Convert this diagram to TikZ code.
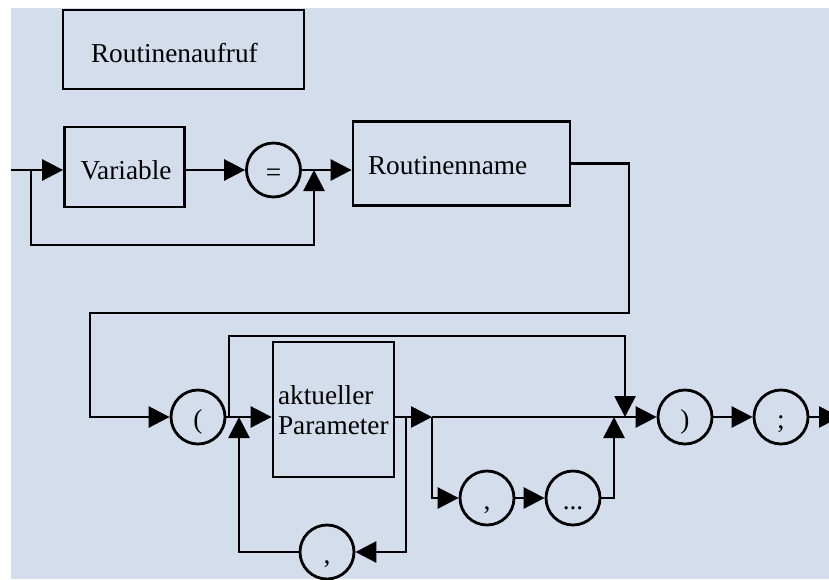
\documentclass[tikz,border=0pt]{standalone}
\usepackage{fontspec}
\setmainfont{Liberation Serif}
\usetikzlibrary{arrows.meta}
\definecolor{syntaxbg}{RGB}{211,221,235}

\def\syntaxfont{\fontsize{27.3}{30}\selectfont}

\begin{document}
\begin{tikzpicture}[x=1pt,y=-1pt,line width=2.8pt,
        syn/.style={-{Triangle[length=21pt,width=21pt]}},
        kasten/.style={draw,rectangle,inner ysep=0pt,align=left,font=\syntaxfont},
        kreis/.style={draw,circle,minimum size=54pt,inner sep=0pt,text height=24pt,text depth=2pt,font=\syntaxfont}]
        \useasboundingbox (0,0) rectangle (829,579);
        \fill[syntaxbg] (11,8) rectangle (829,579);

        \node[kasten,minimum width=241pt,minimum height=79pt,inner xsep=28pt,text width=185pt,text height=25.6pt,text depth=0pt] (aufruf) at (183.5,49.5) {Routinenaufruf};
        \node[kasten,minimum width=120pt,minimum height=80pt,inner xsep=16pt,text width=88pt,text height=24.6pt,text depth=0pt] (var) at (124.5,167) {Variable};
        \node[kasten,minimum width=217pt,minimum height=84pt,inner xsep=15pt,text width=187pt,text height=21.2pt,text depth=0pt] (rname) at (461.5,163.7) {Routinenname};
        \node[kasten,minimum width=121pt,minimum height=135pt,inner xsep=5pt,text width=111pt,text height=19.6pt,text depth=30pt] (param) at (333.5,409.5) {aktueller\\Parameter};

        \node[kreis] (gleich) at (273.5,170) {=};
        \node[kreis] (auf) at (198,417) {(};
        \node[kreis] (komma) at (327,552) {,};
        \node[kreis] (komma2) at (487,498) {,};
        \node[kreis] (punkte) at (573,498) {...};
        \node[kreis] (zu) at (685,417) {)};
        \node[kreis] (semi) at (781,417) {;};

        \coordinate (start) at (11,170);
        \coordinate (gabel) at (31,170);
        \coordinate (treffen) at (314,170);
        \coordinate (knick) at (629,313);
        \coordinate (umbruch) at (90,313);
        \coordinate (a1) at (229,417);
        \coordinate (a2) at (239,417);
        \coordinate (a3) at (406,417);
        \coordinate (a4) at (432,417);
        \coordinate (a5) at (614,417);
        \coordinate (a6) at (625,417);
        \coordinate (ende) at (840,417);

        \draw (start) -- (gabel);
        \draw[syn] (gabel) -- (var.west |- gabel);
        \draw[syn] (gabel) -- ++(0,75) -| (treffen);
        \draw[syn] (var.east |- gabel) -- (gleich.west);
        \draw (gleich.east) -- (treffen);
        \draw[syn] (treffen) -- (rname.west |- treffen);
        \draw[syn] (rname.east) -| (knick) -- (umbruch) |- (auf.west);

        \draw (auf.east) -- (a2);
        \draw[syn] (a2) -- (param.west |- a2);
        \draw[syn] (a1) -- ++(0,-81) -| (a6);
        \draw[syn] (param.east |- a3) -- (a4);
        \draw[syn] (a3) |- (komma.east);
        \draw[syn] (komma.west) -| (a2);
        \draw[syn] (a4) -- (zu.west);
        \draw[syn] (a4) |- (komma2.west);
        \draw[syn] (komma2.east) -- (punkte.west);
        \draw[syn] (punkte.east) -| (a5);
        \draw[syn] (zu.east) -- (semi.west);
        \draw[syn] (semi.east) -- (ende);
    \end{tikzpicture}
\end{document}
